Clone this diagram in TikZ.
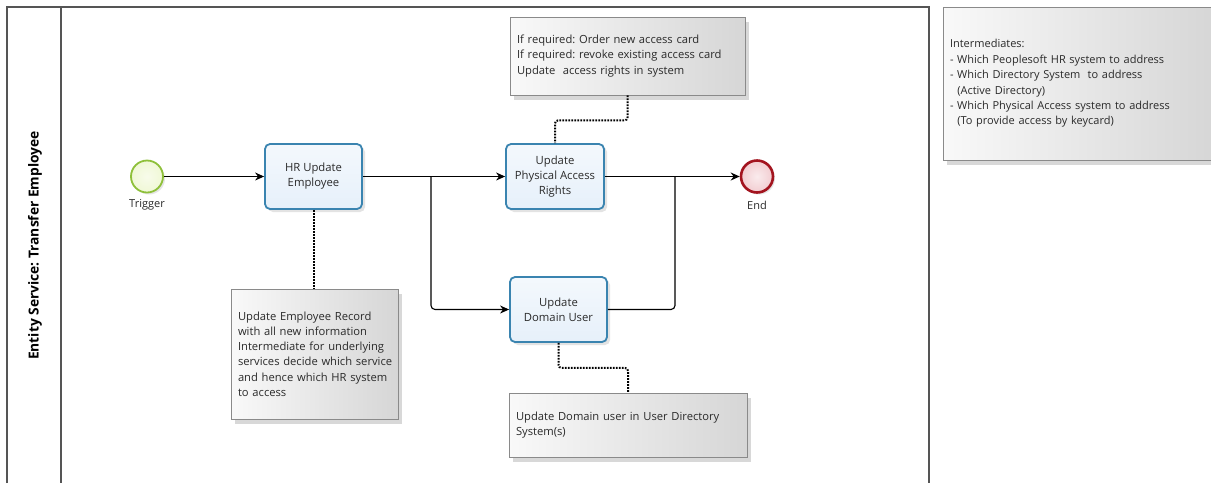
\documentclass[tikz,border=0pt]{standalone}
\usepackage{fontspec}
\setmainfont{Open Sans}
\frenchspacing
\hyphenpenalty=10000
\exhyphenpenalty=10000
\usetikzlibrary{arrows.meta,shadows,positioning}
\definecolor{taskborder}{HTML}{3A84B0}
\definecolor{taskfill}{HTML}{E6F0FA}
\definecolor{startborder}{HTML}{8EC03A}
\definecolor{startfill}{HTML}{F0F8D6}
\definecolor{endborder}{HTML}{A3141F}
\definecolor{endfill}{HTML}{F2CDD1}
\definecolor{poolline}{HTML}{555555}
\definecolor{notefill}{HTML}{D6D6D6}
\definecolor{noteborder}{HTML}{8A8A8A}
\definecolor{txt}{HTML}{2A2A2A}
\begin{document}
\begin{tikzpicture}[x=1pt,y=-1pt,
  pool/.style={draw=poolline,line width=1.1pt},
  task/.style={draw=taskborder,line width=1.8pt,rounded corners=5pt,
    top color=white!55!taskfill,bottom color=taskfill,
    minimum height=65pt,align=center,text=txt,inner xsep=2pt,
    font=\fontsize{11.3}{15}\selectfont,
    drop shadow={opacity=0.22,shadow xshift=3pt,shadow yshift=-3pt}},
  startev/.style={circle,draw=startborder,line width=1.8pt,
    inner color=white!50!startfill,outer color=startfill,minimum size=32pt,inner sep=0pt,
    drop shadow={opacity=0.2,shadow xshift=2pt,shadow yshift=-2pt}},
  endev/.style={circle,draw=endborder,line width=2.6pt,
    inner color=white!60!endfill,outer color=endfill,minimum size=32pt,inner sep=0pt,
    drop shadow={opacity=0.2,shadow xshift=2pt,shadow yshift=-2pt}},
  evlabel/.style={font=\fontsize{11}{13}\selectfont,text=txt},
  note/.style={draw=noteborder,line width=0.8pt,
    left color=white!85!notefill,right color=notefill,
    align=left,anchor=center,inner xsep=7pt,inner ysep=0pt,text=txt,
    font=\fontsize{11.2}{15.2}\selectfont,
    drop shadow={opacity=0.3,shadow xshift=4pt,shadow yshift=-5pt}},
  flow/.style={draw=black,line width=1.1pt,-{Stealth[length=9pt,width=8pt]}},
  flowline/.style={draw=black,line width=1.1pt},
  assoc/.style={draw=black,line width=2pt,dash pattern=on 1.6pt off 1.4pt}
]
\useasboundingbox[fill=white] (0,0) rectangle (1211,483);

% pool and lane header
\draw[pool] (7,483) -- (7,7) -- (929,7) -- (929,483);
\draw[pool] (61,7) -- (61,483);
\node[rotate=90,font=\fontsize{13.8}{15}\selectfont\bfseries,text=black] (title) at (35,245.5) {Entity Service: Transfer Employee};

% events and tasks
\node[startev] (trig) at (147,176.5) {};
\node[evlabel] (trigl) at (147,205) {Trigger};
\node[task,minimum width=97pt] (hr) at (313.5,176.5) {HR Update\\Employee};
\node[task,minimum width=98pt] (phys) at (555,176.5) {Update\\Physical Access\\Rights};
\node[task,minimum width=97pt] (dom) at (558.5,309.5) {Update\\Domain User};
\node[endev] (endev) at (757,176.5) {};
\node[evlabel] (endl) at (757,205) {End};

% annotations
\node[note,text width=153pt,minimum height=130pt] (hrnote) at (314.5,354)
  {Update Employee Record\\with all new information\\\mbox{Intermediate for underlying}\\\mbox{services decide which service}\\and hence which HR system\\to access};
\node[note,text width=221pt,minimum height=78pt] (topnote) at (627.5,56)
  {If required: Order new access card\\If required: revoke existing access card\\Update\ \ access rights in system};
\node[note,text width=224pt,minimum height=64pt] (botnote) at (628,425)
  {Update Domain user in User Directory\\System(s)};
\node[note,text width=258pt,minimum height=153pt,font=\fontsize{11}{15.4}\selectfont] (rightnote) at (1079,83.5)
  {Intermediates:\\- Which Peoplesoft HR system to address\\- Which Directory System\ \ to address\\\ \ (Active Directory)\\- Which Physical Access system to address\\\ \ (To provide access by keycard)};

% sequence flows
\coordinate (split) at (431,176.5);
\coordinate (join) at (675,176.5);
\draw[flow] (trig) -- (hr.west);
\draw[flow] (hr.east) -- (phys.west);
\draw[flow,rounded corners=4pt] (split) |- (dom.west);
\draw[flow] (phys.east) -- (endev.west);
\draw[flowline,rounded corners=4pt] (dom.east) -| (join);

% associations
\draw[assoc] (hr.south) -- (hr.south |- hrnote.north);
\draw[assoc,rounded corners=3pt] (topnote.south) -- ++(0,25) -| (phys.north);
\draw[assoc,rounded corners=3pt] (dom.south) -- ++(0,25) -| (botnote.north);
\end{tikzpicture}
\end{document}
